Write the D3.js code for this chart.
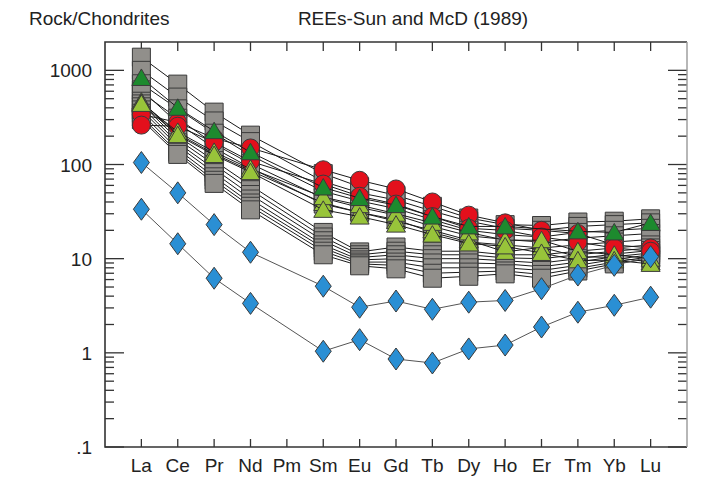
<!DOCTYPE html>
<html>
<head>
<meta charset="utf-8">
<script src="https://cdn.jsdelivr.net/npm/d3@7"></script>
<style>
  body { margin: 0; background: #fff; }
  svg { display: block; }
  text { font-family: "Liberation Sans", Arial, sans-serif; fill: #222; }
</style>
</head>
<body>
<svg id="chart" width="726" height="477"></svg>
<script>
// REE elements (Pm has no data)
const elements = ["La", "Ce", "Pr", "Nd", "Pm", "Sm", "Eu", "Gd", "Tb", "Dy", "Ho", "Er", "Tm", "Yb", "Lu"];
const yTickValues = [0.1, 1, 10, 100, 1000];
const yTickLabels = [".1", "1", "10", "100", "1000"];

// grey squares
const squareSeries = [
  [1380, 714, 360, 205, null, 80, 58, 47, 36, 27, 23, 22.5, 24.5, 25, 26.5],
  [1000, 520, 290, 175, null, 66, 50, 42, 32, 25, 21, 20, 22, 23, 24],
  [720, 390, 215, 125, null, 52, 41, 34, 26, 20, 18, 17, 19, 20, 21],
  [580, 310, 165, 102, null, 44, 35, 29, 22, 17.5, 16, 15, 16.5, 17.5, 18.5],
  [620, 275, 150, 92, null, 38, 31, 26, 19, 15, 14, 13, 14, 15, 16],
  [470, 200, 110, 60, null, 19, 11.8, 13.3, 12, 12, 11, 11, 12, 13, 14],
  [440, 185, 100, 54, null, 17, 11, 12, 11, 11, 10.2, 10, 11, 12, 13],
  [410, 170, 90, 48, null, 15.5, 10.3, 11, 10, 10, 9.5, 9, 10, 11.2, 12.2],
  [380, 158, 82, 43, null, 14, 9.7, 10, 9, 9, 8.8, 8.2, 9.2, 10.5, 11.5],
  [350, 145, 74, 39, null, 13, 9.2, 9.2, 8, 8, 8, 7.5, 8.5, 9.8, 11],
  [320, 135, 68, 36, null, 12, 8.8, 8.5, 7, 7.2, 7.4, 6.8, 7.9, 9.2, 10.5],
  [300, 128, 63, 33, null, 11, 8.4, 7.8, 6.2, 6.5, 6.9, 6.2, 7.4, 8.8, 10]
];
// red circles
const circleSeries = [
  [340, 280, 190, 150, null, 88, 68, 55, 40, 29, 24, 20, 18.5, 14, 13],
  [262, 255, 172, 108, null, 62, 46, 38, 28, 21, 20, 17, 15, 13, 12]
];
// light green triangles
const lightTriSeries = [
  [465, 212, 130, 86, null, 39, 31, 25, 20, 15.7, 11.8, 13.2, 10.5, 10.3, 9.2],
  [450, 222, 136, 90, null, 45, 37, 30, 24, 19, 15.7, 15.7, 12, 11, 10],
  [440, 205, 126, 83, null, 33, 28, 23, 18, 14.5, 13.5, 11.5, 9.6, 9.6, 8.8]
];
// dark green triangles
const darkTriSeries = [
  [830, 400, 226, 135, null, 57, 44, 37, 28, 22, 22, null, 19.5, 19, 24]
];
// blue diamonds
const diamondSeries = [
  [105, 50, 23, 11.7, null, 5.1, 3.05, 3.55, 2.9, 3.45, 3.6, 4.8, 6.7, 8.5, 10.5],
  [33.5, 14.4, 6.2, 3.35, null, 1.04, 1.38, 0.86, 0.78, 1.1, 1.21, 1.88, 2.7, 3.2, 3.9]
];

const svg = d3.select("#chart");
const margin = { top: 42, right: 39, bottom: 30, left: 105 };
const W = 726, H = 477;
const x0 = margin.left, x1 = W - margin.right, y0 = margin.top, y1 = H - margin.bottom;

const x = d3.scalePoint().domain(elements).range([x0, x1]).padding(1);
const y = d3.scaleLog().domain([0.1, 2000]).range([y1, y0]);

// titles
svg.append("text").attr("x", 29).attr("y", 25).attr("font-size", 19).text("Rock/Chondrites");
svg.append("text").attr("x", 413).attr("y", 25).attr("font-size", 19)
  .attr("text-anchor", "middle").text("REEs-Sun and McD (1989)");

// axis ticks
const minor = [];
for (let d = 0.1; d < 2000; d *= 10) {
  for (let k = 2; k <= 9; k++) if (d * k < 2000) minor.push(d * k);
}
const ax = svg.append("g").attr("stroke", "#333").attr("stroke-width", 1.3);
yTickValues.forEach(v => {
  ax.append("line").attr("x1", x0).attr("x2", x0 + 19).attr("y1", y(v)).attr("y2", y(v));
  ax.append("line").attr("x1", x1).attr("x2", x1 - 19).attr("y1", y(v)).attr("y2", y(v));
});
minor.forEach(v => {
  ax.append("line").attr("x1", x0).attr("x2", x0 + 9).attr("y1", y(v)).attr("y2", y(v));
  ax.append("line").attr("x1", x1).attr("x2", x1 - 9).attr("y1", y(v)).attr("y2", y(v));
});
elements.forEach(el => {
  ax.append("line").attr("x1", x(el)).attr("x2", x(el)).attr("y1", y0).attr("y2", y0 + 9);
  ax.append("line").attr("x1", x(el)).attr("x2", x(el)).attr("y1", y1).attr("y2", y1 - 8);
});

svg.append("g").selectAll("text").data(yTickValues).join("text")
  .attr("x", 92).attr("y", d => y(d) + 7).attr("text-anchor", "end")
  .attr("font-size", 19).text((d, i) => yTickLabels[i]);

svg.append("g").selectAll("text").data(elements).join("text")
  .attr("x", d => x(d)).attr("y", y1 + 25).attr("text-anchor", "middle")
  .attr("font-size", 19).text(d => d);

// frame
svg.append("path").attr("fill", "none").attr("stroke", "#333").attr("stroke-width", 1.6)
  .attr("d", `M${x1},${y0}H${x0}V${y1}H${x1}`);
svg.append("line").attr("x1", x1).attr("x2", x1).attr("y1", y0).attr("y2", y1)
  .attr("stroke", "#999").attr("stroke-width", 1.4);

// series
const line = d3.line().x(d => x(d.el)).y(d => y(d.v));
const pts = s => s.map((v, i) => ({ el: elements[i], v })).filter(d => d.v != null);

const shapes = {
  square: "M-9,-9H9V9H-9Z",
  circle: "M-9,0A9,9 0 1,0 9,0A9,9 0 1,0 -9,0Z",
  triangle: "M0,-9L9.5,7.5H-9.5Z",
  diamond: "M0,-11L8,0L0,11L-8,0Z"
};

function drawGroup(series, shape, fill, lineColor) {
  series.forEach(s => {
    const p = pts(s);
    const g = svg.append("g");
    g.append("path").attr("d", line(p)).attr("fill", "none")
      .attr("stroke", lineColor).attr("stroke-width", 1);
    g.selectAll("path.m").data(p).join("path").attr("class", "m")
      .attr("d", shapes[shape])
      .attr("transform", d => `translate(${x(d.el)},${y(d.v)})`)
      .attr("fill", fill).attr("stroke", "#3a3a3a").attr("stroke-width", 1);
  });
}

drawGroup(squareSeries, "square", "#918f8b", "#1a1a1a");
drawGroup(circleSeries, "circle", "#e3101c", "#1a1a1a");
drawGroup(lightTriSeries, "triangle", "#98c43a", "#1a1a1a");
drawGroup(darkTriSeries, "triangle", "#1d8a2e", "#1a1a1a");
drawGroup(diamondSeries, "diamond", "#2a8fd4", "#555");
</script>
</body>
</html>
